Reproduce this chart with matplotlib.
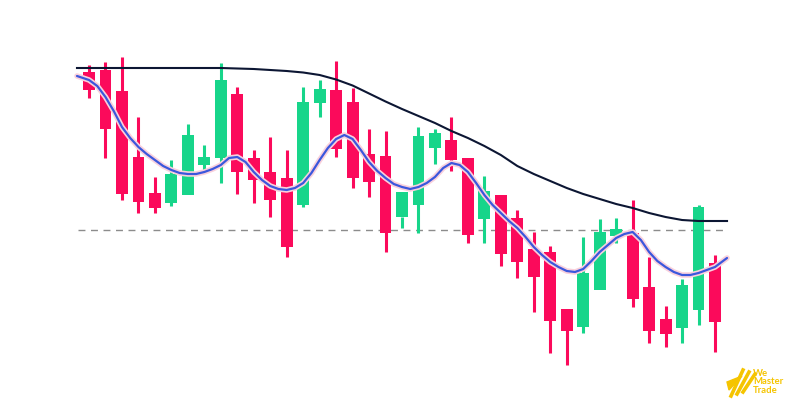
import numpy as np
import matplotlib.pyplot as plt
from matplotlib.patches import Rectangle, Polygon

# candle data (price units)
opens = [328, 330, 309, 243, 207, 197, 205, 235, 242, 306, 242, 228, 222, 195, 297, 310, 298, 246, 244, 183, 195, 252, 260,
         242, 181, 205, 182, 151, 148, 91, 73, 110, 164, 167, 113, 81, 72, 90, 137]
highs = [335, 338, 343, 283, 223, 240, 276, 255, 337, 313, 250, 263, 250, 313, 320, 339, 312, 271, 269, 183, 273, 271, 283,
         242, 224, 205, 190, 168, 154, 91, 163, 181, 182, 200, 143, 94, 121, 195, 145]
lows = [302, 242, 200, 187, 187, 194, 265, 230, 217, 206, 197, 183, 143, 193, 283, 243, 212, 203, 148, 172, 167, 236, 229,
        157, 157, 134, 122, 88, 47, 35, 67, 160, 157, 93, 57, 53, 57, 75, 48]
closes = [310, 271, 206, 198, 192, 226, 265, 243, 320, 228, 220, 200, 153, 298, 311, 251, 222, 218, 167, 208, 264, 267, 240,
          165, 209, 146, 138, 123, 79, 69, 127, 168, 171, 101, 69, 66, 115, 193, 78]

# blue moving average, read every half candle (first candle to last)
ma_fast = [320, 314, 303, 289, 273, 262, 253, 246, 240, 234,
           230, 227, 226, 226, 228, 231, 235, 242, 243, 238,
           228, 220, 214, 211, 210, 212, 217, 227, 240, 252,
           261, 265, 261, 250, 238, 229, 222, 216, 213, 211,
           213, 217, 223, 232, 237, 235, 228, 217, 205, 195,
           187, 179, 172, 163, 153, 145, 138, 133, 129, 128,
           131, 139, 148, 155, 162, 166, 168, 160, 148, 139,
           133, 128, 125, 125, 127, 130, 133]
fast_start, fast_end = 324, 142
# dark slow average, one value per candle plus the two ends
ma_slow = [332, 332, 332, 332, 332, 332, 332, 332, 332, 332, 331.5, 331, 330, 329, 327.5, 325, 320.5, 314.5, 306.5, 298.5,
           291, 284, 277, 269, 262, 254, 245, 234, 226, 219, 212, 206, 201, 196, 192, 187, 183, 180, 179, 179, 179]
level = 170

n = len(opens)
idx = np.arange(n)
x_slow = np.concatenate([[-0.73], idx, [38.73]])
x_fast = np.concatenate([[-0.73], np.arange(len(ma_fast)) / 2, [38.73]])
y_fast = [fast_start] + ma_fast + [fast_end]

red = '#fb0a5b'
green = '#17d58a'

fig = plt.figure(figsize=(8, 4), dpi=100)
ax = fig.add_axes([0, 0, 1, 1])
ax.set_xlim(-5.404, 43.16)
ax.set_ylim(0, 400)
ax.axis('off')

width = 0.72
for i in range(n):
    o, h, l, c = opens[i], highs[i], lows[i], closes[i]
    col = green if c >= o else red
    ax.plot([i, i], [l, h], color=col, lw=2.2, solid_capstyle='butt', zorder=2)
    ax.add_patch(Rectangle((i - width / 2, min(o, c)), width, abs(c - o), color=col, lw=0, zorder=3))

ax.plot([-0.67, 38.73], [level, level], color='#8c8c8c', lw=1, ls=(0, (5, 4)), zorder=1)
ax.plot(x_slow, ma_slow, color='#0c1633', lw=1.5, zorder=5)
ax.plot(x_fast, y_fast, color='#f9d0dc', lw=4, solid_capstyle='round', zorder=5)
ax.plot(x_fast, y_fast, color='#3b57dc', lw=1.6, solid_capstyle='round', zorder=6)

# watermark logo
gold = '#f5c400'
fig.patches.append(Polygon([[727, 18], [742, 24], [729, 10]], closed=True, transform=None, color=gold))
for k in range(3):
    x0 = 728 + k * 6
    fig.lines.append(plt.Line2D([x0 + 3, x0 + 15], [4 + k * 2, 30 - k * 2], transform=None, color=gold, lw=2.6))
fig.text(753, 18, 'We\nMaster\nTrade', transform=None, color=gold, fontsize=6.8, fontweight='bold',
         va='center', ha='left', linespacing=0.95, family='Lato')

fig.savefig('out.png', dpi=100, facecolor='white')
